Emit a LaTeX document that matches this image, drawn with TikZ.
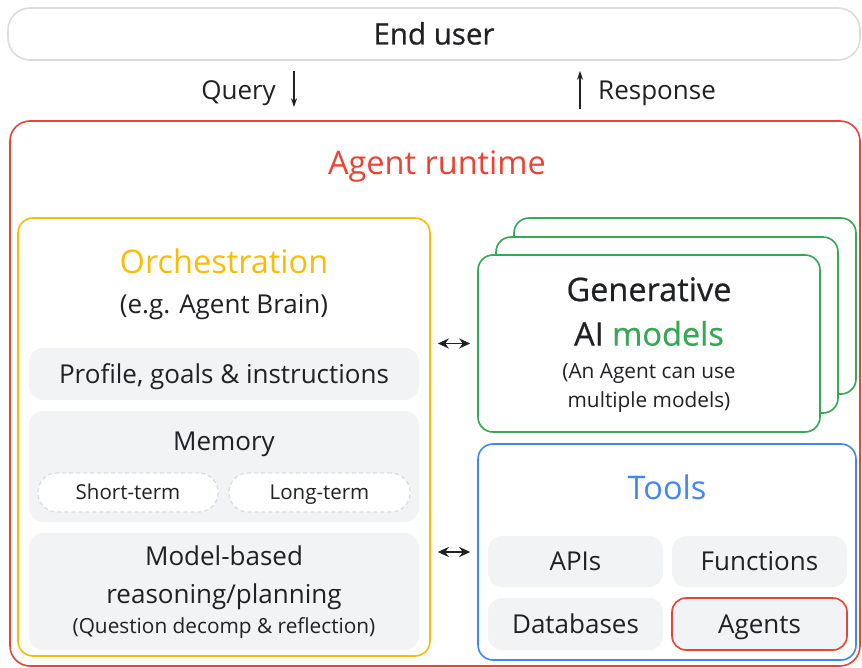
\documentclass[tikz,border=0pt]{standalone}
\usepackage{fontspec}
\setmainfont{Open Sans}
\newfontfamily\heavyfont[FakeBold=0.6]{Open Sans}
\usetikzlibrary{arrows.meta}
\definecolor{ink}{HTML}{202124}
\definecolor{gred}{HTML}{EA4335}
\definecolor{gyellow}{HTML}{FBBC04}
\definecolor{ggreen}{HTML}{34A853}
\definecolor{gblue}{HTML}{4285F4}
\definecolor{ggrayfill}{HTML}{F1F3F4}
\definecolor{gline}{HTML}{DADCE0}
% every text node is centred on the middle of its capital letters
\tikzset{
  box/.style={draw, rounded corners=#1, inner sep=0pt, line width=1.6pt},
  box/.default=15pt,
  graybox/.style={fill=ggrayfill, rounded corners=14pt, inner sep=0pt, text=ink},
  pill/.style={draw=gline, fill=white, dashed, dash pattern=on 4pt off 3pt, line width=1.3pt,
    rounded corners=19pt, inner sep=0pt, text=ink, font=\fontsize{20.5}{24}\selectfont,
    text height=14.6pt, text depth=0pt},
  lbl/.style={text=ink, inner sep=0pt},
  big/.style={font=\fontsize{32.5}{38}\selectfont, text height=23.2pt, text depth=0pt},
  mid/.style={font=\fontsize{26}{31}\selectfont, text height=18.6pt, text depth=0pt},
  small/.style={font=\fontsize{20.8}{25}\selectfont, text height=14.8pt, text depth=0pt},
  heavy/.style={font=\heavyfont\fontsize{32.5}{38}\selectfont, text height=23.2pt, text depth=0pt},
  flow/.style={-{Stealth[length=9pt,width=6pt]}, line width=1.2pt, draw=ink},
  dbl/.style={{Stealth[length=11pt,width=10pt]}-{Stealth[length=11pt,width=10pt]}, line width=1.8pt, draw=ink,
    shorten <=7pt, shorten >=7pt},
}
\begin{document}
\begin{tikzpicture}[x=1pt,y=-1pt]
\useasboundingbox (0,0) rectangle (862,668);

% end user bar
\node[box=22pt, draw=gline, minimum width=852pt, minimum height=52pt, lbl,
      font=\heavyfont\fontsize{29.5}{34}\selectfont, text height=21pt, text depth=0pt] (enduser) at (434,34) {End user};

% query / response
\coordinate (qx) at (294,0);
\coordinate (rx) at (580,0);
\node[lbl, mid, anchor=east] (query) at (276,90) {Query};
\node[lbl, mid, anchor=west] (response) at (598,90) {Response};

% agent runtime frame
\node[box=20pt, draw=gred, minimum width=850pt, minimum height=545pt] (runtime) at (435,393.5) {};
\node[text=gred, big, inner sep=0pt] (rtlabel) at (437,163) {Agent runtime};

\draw[flow, shorten <=10pt, shorten >=13pt] (enduser.south -| qx) -- (runtime.north -| qx);
\draw[flow, shorten <=11pt, shorten >=10pt] (runtime.north -| rx) -- (enduser.south -| rx);

% orchestration
\node[box, draw=gyellow, minimum width=412pt, minimum height=438pt] (orch) at (224,437) {};
\node[text=gyellow, big, inner sep=0pt] (orchlabel) at (224,262) {Orchestration};
\node[lbl, mid] (orchsub) at (224,304) {(e.g. Agent Brain)};

\node[graybox, minimum width=390pt, minimum height=52pt, mid] (profile) at (224,374) {Profile, goals \& instructions};
\node[graybox, minimum width=390pt, minimum height=111pt] (memory) at (224,466.5) {};
\node[lbl, mid] (memlabel) at (224,441) {Memory};
\node[pill, minimum width=180pt, minimum height=39pt] (short) at (128,492.5) {Short-term};
\node[pill, minimum width=181pt, minimum height=39pt] (long) at (319.5,492.5) {Long-term};
\node[graybox, minimum width=390pt, minimum height=117pt] (reason) at (224,591.5) {};
\node[lbl, mid] (reason1) at (224,556) {Model-based};
\node[lbl, mid] (reason2) at (224,594) {reasoning/planning};
\node[lbl, small] (reason3) at (224,626) {(Question decomp \& reflection)};

% generative models stack
\node[box, draw=ggreen, fill=white, minimum width=342pt, minimum height=176pt] (genc) at (685,306) {};
\node[box, draw=ggreen, fill=white, minimum width=342pt, minimum height=176pt] (genb) at (667,325) {};
\node[box, draw=ggreen, fill=white, minimum width=342pt, minimum height=177pt] (gen) at (649,343.5) {};
\node[lbl, heavy] (gen1) at (649,289.5) {Generative};
\node[lbl, heavy] (gen2) at (649,334) {AI \textcolor{ggreen}{models}};
\node[lbl, small] (gen3) at (649,371.5) {(An Agent can use};
\node[lbl, small] (gen4) at (649,400.5) {multiple models)};

% tools
\node[box, draw=gblue, minimum width=378pt, minimum height=216pt] (tools) at (667,552) {};
\node[text=gblue, big, inner sep=0pt] (toollabel) at (667,488) {Tools};
\node[graybox, minimum width=175pt, minimum height=51pt, mid] (apis) at (575.5,561.5) {APIs};
\node[graybox, minimum width=175pt, minimum height=51pt, mid] (funcs) at (759.5,561.5) {Functions};
\node[graybox, minimum width=175pt, minimum height=52pt, mid] (dbs) at (575.5,624) {Databases};
\node[graybox, draw=gred, line width=1.6pt, minimum width=175pt, minimum height=52pt, mid] (agents) at (759.5,624) {Agents};

% links between orchestration and the right-hand blocks
\draw[dbl] (gen.west -| orch.east) -- (gen.west);
\draw[dbl] (tools.west -| orch.east) -- (tools.west);
\end{tikzpicture}
\end{document}
